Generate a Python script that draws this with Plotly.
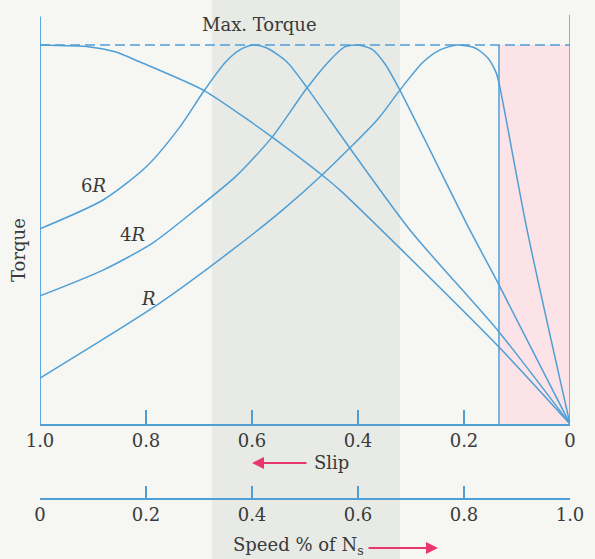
import plotly.graph_objects as go

# ---------------- data ----------------
# slip values and relative torque (1.0 = max torque) for each curve
slip_top = [1.0, 0.906, 0.858, 0.811, 0.692, 0.604, 0.562, 0.468, 0.434, 0.321, 0.134, 0.0]
torque_top = [1.0, 0.995, 0.982, 0.955, 0.881, 0.799, 0.757, 0.657, 0.617, 0.464, 0.203, 0.0]

slip_6R = [1.0, 0.881, 0.800, 0.736, 0.692, 0.651, 0.623, 0.598, 0.572, 0.534,
           0.496, 0.453, 0.302, 0.134, 0.0]
torque_6R = [0.515, 0.591, 0.678, 0.784, 0.876, 0.953, 0.987, 1.0, 0.992, 0.955,
             0.887, 0.802, 0.512, 0.243, 0.0]

slip_4R = [1.0, 0.881, 0.787, 0.698, 0.630, 0.562, 0.496, 0.453, 0.425, 0.400,
           0.374, 0.349, 0.321, 0.189, 0.134, 0.0]
torque_4R = [0.338, 0.406, 0.478, 0.575, 0.654, 0.757, 0.887, 0.960, 0.995, 1.0,
             0.989, 0.950, 0.881, 0.512, 0.367, 0.0]

slip_R = [1.0, 0.892, 0.774, 0.642, 0.542, 0.468, 0.364, 0.321, 0.277, 0.245,
          0.213, 0.179, 0.155, 0.140, 0.134, 0.081, 0.0]
torque_R = [0.121, 0.214, 0.319, 0.454, 0.565, 0.657, 0.802, 0.881, 0.955, 0.987,
            1.0, 0.992, 0.966, 0.929, 0.900, 0.512, 0.0]

slip_ticks = [1.0, 0.8, 0.6, 0.4, 0.2, 0.0]
slip_labels = ["1.0", "0.8", "0.6", "0.4", "0.2", "0"]
speed_ticks = [0.0, 0.2, 0.4, 0.6, 0.8, 1.0]
speed_labels = ["0", "0.2", "0.4", "0.6", "0.8", "1.0"]

stable_limit_slip = 0.134   # boundary of shaded (pink) region

# ---------------- styles ----------------
BLUE = "#4f9fd6"
PINK = "#e8366f"
TXT = "#3a3a3a"
FONT = "DejaVu Serif"

W, H = 595, 559
L, R, T, B = 36, 16, 0, 60
pw, ph = W - L - R, H - T - B
x_dom = [(40 - L) / pw, (570 - L) / pw]
y_bottom_px = 424
y_dom = [(H - B - y_bottom_px) / ph, 1.0]
ymax = y_bottom_px / 379.0


def px(xp):
    return (xp - L) / pw


def py(yp):
    return (H - B - yp) / ph


fig = go.Figure()

for xs, ys in [(slip_top, torque_top), (slip_6R, torque_6R),
               (slip_4R, torque_4R), (slip_R, torque_R)]:
    fig.add_trace(go.Scatter(x=xs, y=ys, mode="lines",
                             line=dict(color=BLUE, width=1.5, shape="spline", smoothing=0.7),
                             hoverinfo="skip", showlegend=False))

# invisible trace to activate speed axis
fig.add_trace(go.Scatter(x=speed_ticks, y=[-1] * len(speed_ticks), xaxis="x2", yaxis="y",
                         mode="markers", marker=dict(opacity=0), showlegend=False,
                         hoverinfo="skip"))

shapes = [
    # scan band
    dict(type="rect", xref="paper", yref="paper", x0=px(212), x1=px(400),
         y0=-0.2, y1=1.1, fillcolor="#e8eae5", line=dict(width=0), layer="below"),
    # pink region
    dict(type="rect", xref="x", yref="y", x0=stable_limit_slip, x1=0, y0=0, y1=1,
         fillcolor="#fce3e8", line=dict(width=0), layer="below"),
    dict(type="line", xref="x", yref="y", x0=stable_limit_slip, x1=stable_limit_slip,
         y0=0, y1=1, line=dict(color=BLUE, width=1.5)),
    # max torque dashed line
    dict(type="line", xref="x", yref="y", x0=1, x1=0, y0=1, y1=1,
         line=dict(color=BLUE, width=1.5, dash="10px,5px")),
    # left and right vertical lines
    dict(type="line", xref="x", yref="y", x0=1, x1=1, y0=0, y1=1.075,
         line=dict(color=BLUE, width=1.8)),
    dict(type="line", xref="x", yref="y", x0=0, x1=0, y0=0, y1=1.08,
         line=dict(color=BLUE, width=1.5)),
]

tf = dict(family=FONT, size=18, color=TXT)
annotations = [
    dict(x=0.585, y=1.053, xref="x", yref="y", text="Max. Torque", showarrow=False, font=tf),
    dict(x=0.90, y=0.63, xref="x", yref="y", text="6<i>R</i>", showarrow=False, font=tf),
    dict(x=0.826, y=0.499, xref="x", yref="y", text="4<i>R</i>", showarrow=False, font=tf),
    dict(x=0.796, y=0.332, xref="x", yref="y", text="<i>R</i>", showarrow=False, font=tf),
    dict(x=px(18), y=py(250), xref="paper", yref="paper", text="Torque", textangle=-90,
         xanchor="center", yanchor="middle", showarrow=False, font=tf),
    # slip arrow
    dict(x=px(252), y=py(463), xref="paper", yref="paper", ax=56, ay=0,
         text="", showarrow=True, arrowhead=2, arrowsize=1.2, arrowwidth=2, arrowcolor=PINK),
    dict(x=px(312), y=py(462), xref="paper", yref="paper", text="Slip", xanchor="left",
         yanchor="middle", showarrow=False, font=tf),
    # speed arrow
    dict(x=px(438), y=py(548), xref="paper", yref="paper", ax=-71, ay=0,
         text="", showarrow=True, arrowhead=2, arrowsize=1.2, arrowwidth=2, arrowcolor=PINK),
    dict(x=px(366), y=py(546), xref="paper", yref="paper", text="Speed % of N<sub>s</sub>",
         xanchor="right", yanchor="middle", showarrow=False, font=tf),
]

fig.update_layout(
    width=W, height=H,
    margin=dict(l=L, r=R, t=T, b=B, pad=0, autoexpand=False),
    paper_bgcolor="#f6f6f3", plot_bgcolor="rgba(0,0,0,0)",
    xaxis=dict(domain=x_dom, range=[1, 0], showgrid=False, zeroline=False,
               showline=True, linecolor=BLUE, linewidth=1.5, automargin=False,
               tickmode="array", tickvals=slip_ticks, ticktext=slip_labels,
               ticks="inside", ticklen=14, tickcolor=BLUE, tickwidth=1.5,
               tickfont=tf, anchor="y"),
    xaxis2=dict(domain=[0, 1], range=[0, 1], showgrid=False, zeroline=False,
                showline=True, linecolor=BLUE, linewidth=1.5, automargin=False,
                tickmode="array", tickvals=speed_ticks, ticktext=speed_labels,
                ticks="inside", ticklen=12, tickcolor=BLUE, tickwidth=1.5,
                tickfont=tf, anchor="free", position=0, overlaying="x"),
    yaxis=dict(domain=y_dom, range=[0, ymax], visible=False, showgrid=False,
               zeroline=False, automargin=False),
    shapes=shapes, annotations=annotations, showlegend=False,
)

fig.write_html("out.html", config={"displayModeBar": False},
               post_script="document.body.style.margin='0';document.body.style.overflow='hidden';")
